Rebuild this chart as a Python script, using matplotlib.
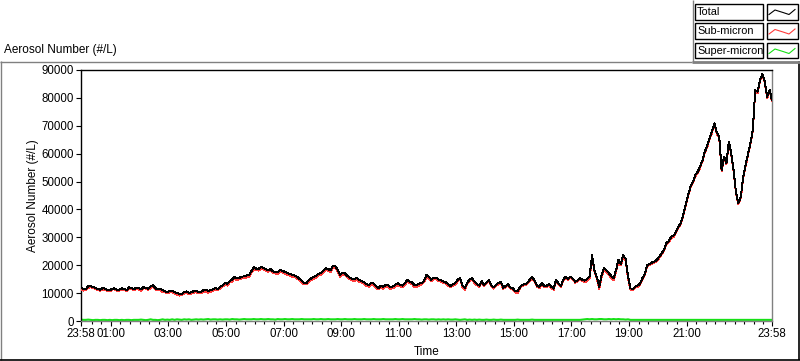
import numpy as np
import matplotlib
matplotlib.use("Agg")
import matplotlib.pyplot as plt
from matplotlib.lines import Line2D
from matplotlib.patches import Rectangle

# ---------------- data (5-minute samples, 23:58 -> 23:58) ----------------
total = [
    12000, 11300, 11500, 12400, 12600, 12100, 11900, 11400, 11200, 11800, 11600, 11100,
    11000, 11600, 11700, 11200, 11200, 11700, 11500, 11000, 12100, 11800, 11400, 11900,
    11800, 11300, 12200, 11900, 11600, 12300, 12900, 11800, 11300, 11600, 11000, 10700,
    10400, 10800, 10900, 10300, 10100, 9600, 9700, 10400, 10600, 10100, 10300, 10700,
    10900, 10400, 10500, 11000, 11200, 10800, 11000, 11400, 11800, 11500, 12300, 12800,
    13600, 13300, 14300, 14900, 15800, 15300, 15500, 15900, 16000, 16300, 16400, 17800,
    19300, 18800, 18700, 19300, 19100, 18600, 18300, 18700, 17800, 17600, 17500, 18200,
    18000, 17600, 17200, 16900, 16600, 16300, 15900, 15100, 14500, 13700, 13700, 14600,
    15400, 15800, 16200, 16900, 17300, 18100, 19000, 18600, 18200, 19800, 19600, 18400,
    16500, 17400, 17100, 16200, 15600, 15200, 15000, 15500, 14700, 14300, 14000, 13200,
    12900, 13600, 13400, 12400, 11900, 12600, 12300, 12900, 12800, 12100, 12400, 13000,
    13500, 13000, 12700, 13600, 14700, 14100, 13800, 12800, 12900, 13400, 13600, 14500,
    16500, 15800, 14800, 15500, 15600, 14800, 14700, 14200, 13900, 13300, 12600, 13200,
    13600, 14800, 15500, 12600, 11800, 13700, 14900, 15300, 14100, 13200, 12700, 14300,
    12900, 13900, 14600, 12800, 12100, 13000, 13600, 14100, 11900, 12600, 13200, 12000,
    11800, 10600, 10600, 12200, 13000, 13300, 13600, 14800, 15900, 14500, 12800, 12100,
    13600, 12700, 12500, 13300, 12300, 11600, 14800, 13500, 12600, 14900, 15900, 15200,
    15900, 15200, 14100, 14600, 15300, 14800, 14500, 15100, 16100, 23600, 18300, 15700,
    12300, 16600, 19000, 18200, 17200, 16100, 15400, 18300, 21900, 20500, 23600, 22200,
    15900, 11700, 11500, 12300, 12700, 13400, 15400, 16800, 20100, 20400, 21000, 21300,
    21900, 23000, 24300, 25500, 27900, 28700, 30200, 30600, 32000, 33800, 35100, 38000,
    41600, 45000, 48100, 49800, 52300, 53500, 55300, 57600, 60700, 62800, 65500, 68000,
    70900, 67500, 66100, 54100, 58900, 56600, 64300, 60200, 54100, 46000, 42300, 44500,
    51700, 55900, 60000, 63800, 68400, 82800, 82200, 86400, 88500, 85800, 80400, 82800,
    79200,
]

super_micron = [
    500, 400, 400, 500, 400, 300, 400, 400, 300, 400, 400, 300,
    400, 300, 400, 400, 300, 400, 300, 400, 400, 300, 400, 400,
    400, 500, 400, 300, 400, 600, 400, 400, 300, 400, 600, 400,
    500, 400, 600, 400, 600, 500, 400, 600, 500, 600, 400, 500,
    600, 500, 600, 500, 600, 700, 500, 600, 600, 500, 600, 500,
    600, 600, 500, 700, 600, 600, 500, 600, 700, 600, 600, 600,
    700, 600, 600, 700, 600, 600, 700, 600, 600, 500, 700, 600,
    600, 700, 600, 600, 700, 600, 600, 600, 700, 600, 600, 600,
    600, 700, 600, 600, 700, 600, 600, 700, 600, 600, 600, 700,
    600, 600, 700, 600, 600, 600, 700, 600, 600, 600, 700, 600,
    600, 600, 700, 600, 600, 600, 700, 600, 600, 600, 600, 700,
    600, 600, 700, 600, 600, 600, 600, 700, 600, 600, 500, 600,
    600, 500, 600, 600, 500, 600, 500, 600, 500, 600, 500, 500,
    600, 500, 400, 500, 600, 400, 500, 400, 500, 400, 500, 400,
    400, 500, 400, 400, 500, 400, 400, 500, 400, 400, 400, 400,
    400, 400, 500, 400, 400, 400, 400, 400, 500, 400, 400, 400,
    400, 400, 400, 400, 400, 400, 400, 400, 400, 400, 400, 400,
    400, 400, 400, 400, 400, 500, 600, 700, 600, 700, 600, 600,
    700, 700, 600, 600, 700, 600, 700, 600, 700, 600, 600, 500,
    600, 400, 400, 400, 400, 400, 400, 400, 400, 400, 400, 400,
    400, 400, 400, 400, 400, 400, 400, 400, 400, 400, 400, 400,
    400, 400, 400, 400, 400, 400, 400, 400, 400, 400, 400, 400,
    400, 400, 400, 400, 400, 400, 400, 400, 400, 400, 400, 400,
    400, 400, 400, 400, 400, 400, 400, 400, 400, 400, 400, 400,
    400,
]

# Total = Sub-micron + Super-micron (by definition of the size classes)
sub_micron = [t - s for t, s in zip(total, super_micron)]

series_names = ["Total", "Sub-micron", "Super-micron"]
series_colors = ["#000000", "#ff3b3b", "#16e016"]

y_ticks = [0, 10000, 20000, 30000, 40000, 50000, 60000, 70000, 80000, 90000]
x_tick_hours = [1, 3, 5, 7, 9, 11, 13, 15, 17, 19, 21]
x_tick_labels = ["01:00", "03:00", "05:00", "07:00", "09:00", "11:00",
                 "13:00", "15:00", "17:00", "19:00", "21:00"]
start_label = "23:58"

# time axis: clock hours, first sample at 23:58 of the previous day
t_start = -2 / 60
step_h = 5 / 60
times = t_start + np.arange(len(total)) * step_h
t_end = t_start + 24

# ---------------- figure ----------------
W, H = 800, 361
FONT = "Liberation Sans"
plt.rcParams["font.family"] = [FONT, "DejaVu Sans"]
fig = plt.figure(figsize=(W / 100, H / 100), dpi=100)
fig.patch.set_facecolor("white")

def fy(y):
    return 1 - y / H

L, R, T, B = 81, 772, 70, 321
ax = fig.add_axes([L / W, 1 - B / H, (R - L) / W, (B - T) / H])
ax.set_facecolor("white")

ax.plot(times, super_micron, color=series_colors[2], lw=1.5, zorder=2)
ax.plot(times, sub_micron, color=series_colors[1], lw=0.7, zorder=3, antialiased=False)
ax.plot(times, total, color=series_colors[0], lw=0.7, zorder=4, antialiased=False)

ax.set_xlim(t_start, t_end)
ax.set_ylim(0, 90000)

ax.set_yticks(y_ticks)
ax.set_yticklabels([str(v) for v in y_ticks])

major_x = [t_start] + x_tick_hours + [t_end]
major_lbl = [start_label] + x_tick_labels + [start_label]
ax.set_xticks(major_x)
ax.set_xticklabels(major_lbl)
minor_x = [k / 3 for k in range(1, 72) if (k / 3) not in x_tick_hours]
ax.set_xticks(minor_x, minor=True)

ax.tick_params(axis="both", which="major", direction="out", length=3.6, width=0.8,
               color="black", labelsize=8.3, pad=1.5)
ax.tick_params(axis="x", which="minor", direction="out", length=2.2, width=0.8, color="black")
ax.tick_params(axis="y", which="minor", left=False)

for side, col in [("left", "black"), ("top", "black"), ("right", "#808080"), ("bottom", "#808080")]:
    ax.spines[side].set_color(col)
    ax.spines[side].set_linewidth(1.0)

# axis titles
fig.text(33 / W, fy(195.5), "Aerosol Number (#/L)", rotation=90, ha="center", va="center", fontsize=8.5)
fig.text(426.5 / W, fy(352), "Time", ha="center", va="center", fontsize=8.5)
fig.text(4 / W, fy(50), "Aerosol Number (#/L)", ha="left", va="center", fontsize=8.5)

# panel frame (3D look)
def pline(x0, y0, x1, y1, color, lw):
    fig.add_artist(Line2D([x0 / W, x1 / W], [fy(y0), fy(y1)], color=color, lw=lw,
                          transform=fig.transFigure, solid_capstyle="butt"))

pline(0, 61.5, 692, 61.5, "#808080", 1.0)
pline(0.5, 61, 0.5, 360, "#808080", 1.0)
pline(0, 359.5, 800, 359.5, "black", 1.2)
pline(798.8, 61, 798.8, 360, "black", 1.2)

# legend area
pline(692.5, 0, 692.5, 62, "#808080", 1.0)
pline(692, 61.5, 800, 61.5, "#808080", 2.0)

rows_y = [(4, 19.5), (23.5, 38.5), (43, 57.5)]
for (y0, y1), name, col in zip(rows_y, series_names, series_colors):
    fig.add_artist(Rectangle((695 / W, fy(y1)), (762.5 - 695) / W, (y1 - y0) / H,
                             transform=fig.transFigure, facecolor="white",
                             edgecolor="black", lw=1.0))
    fig.add_artist(Rectangle((767 / W, fy(y1)), (797.5 - 767) / W, (y1 - y0) / H,
                             transform=fig.transFigure, facecolor="white",
                             edgecolor="black", lw=1.0))
    fig.text(697 / W, fy((y0 + y1) / 2 + 0.5), name, ha="left", va="center", fontsize=7.9)
    sx = [769, 775, 783, 789, 795]
    sy = [y0 + 10.5, y0 + 6, y0 + 8.5, y0 + 10.5, y0 + 5.5]
    fig.add_artist(Line2D([v / W for v in sx], [fy(v) for v in sy], color=col, lw=0.8,
                          transform=fig.transFigure))

fig.savefig("out.png", dpi=100, facecolor="white")
